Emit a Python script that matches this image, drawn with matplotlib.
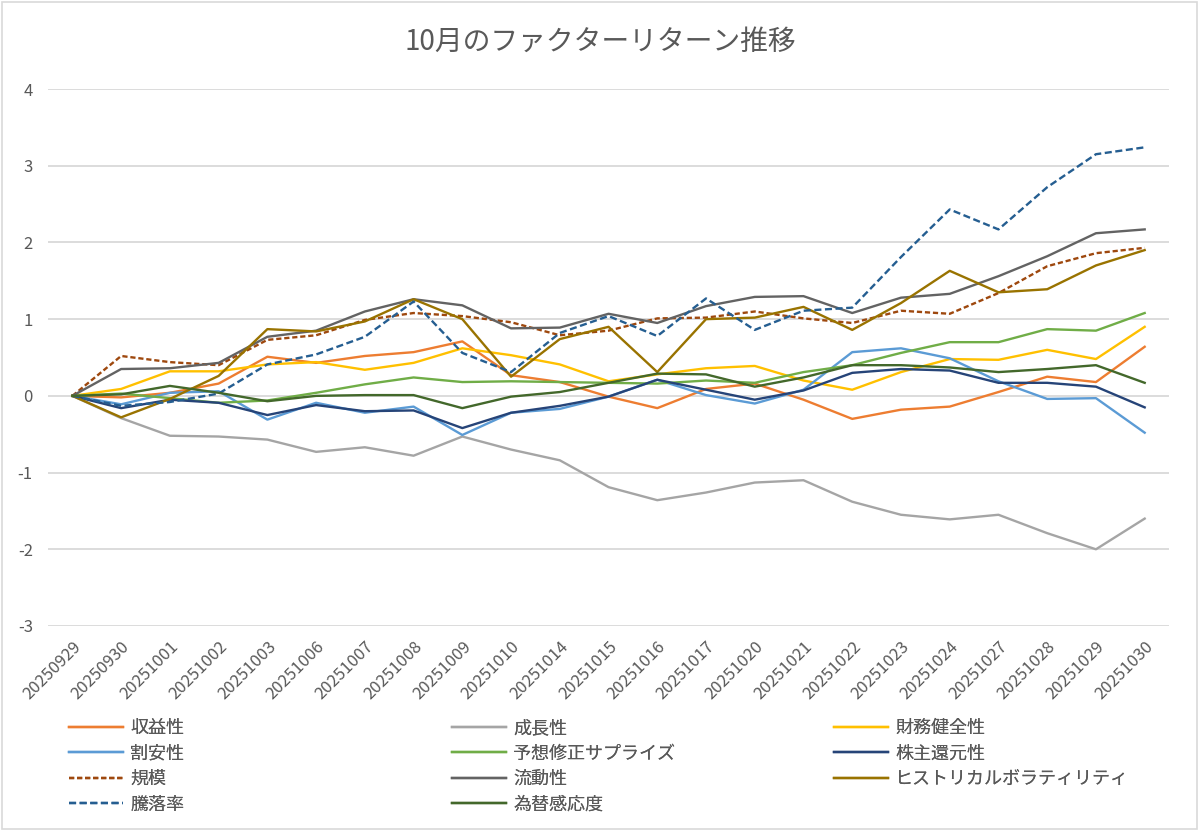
import matplotlib.pyplot as plt
from matplotlib.patches import Rectangle

plt.rcParams['font.family'] = ['Noto Sans CJK JP', 'DejaVu Sans']
plt.rcParams['axes.unicode_minus'] = False

dates = ['20250929', '20250930', '20251001', '20251002', '20251003', '20251006',
         '20251007', '20251008', '20251009', '20251010', '20251014', '20251015',
         '20251016', '20251017', '20251020', '20251021', '20251022', '20251023',
         '20251024', '20251027', '20251028', '20251029', '20251030']

shueki = [0, -0.02, 0.04, 0.16, 0.51, 0.43, 0.52, 0.57, 0.71, 0.27, 0.18, -0.01,
          -0.16, 0.09, 0.16, -0.05, -0.30, -0.18, -0.14, 0.05, 0.25, 0.18, 0.64]
seicho = [0, -0.29, -0.52, -0.53, -0.57, -0.73, -0.67, -0.78, -0.53, -0.70, -0.84, -1.19,
          -1.36, -1.26, -1.13, -1.10, -1.38, -1.55, -1.61, -1.55, -1.79, -2.00, -1.60]
zaimu = [0, 0.09, 0.32, 0.32, 0.41, 0.44, 0.34, 0.43, 0.62, 0.53, 0.41, 0.19,
         0.28, 0.36, 0.39, 0.20, 0.08, 0.31, 0.48, 0.47, 0.60, 0.48, 0.90]
wariyasu = [0, -0.11, 0.04, 0.06, -0.31, -0.09, -0.22, -0.14, -0.51, -0.22, -0.17, -0.01,
            0.21, 0.01, -0.10, 0.08, 0.57, 0.62, 0.49, 0.19, -0.04, -0.03, -0.48]
yoso = [0, 0.03, -0.03, -0.09, -0.06, 0.04, 0.15, 0.24, 0.18, 0.19, 0.18, 0.17,
        0.16, 0.20, 0.17, 0.31, 0.40, 0.56, 0.70, 0.70, 0.87, 0.85, 1.08]
kabunushi = [0, -0.16, -0.05, -0.09, -0.25, -0.12, -0.20, -0.19, -0.42, -0.22, -0.13, -0.01,
             0.21, 0.08, -0.05, 0.07, 0.30, 0.35, 0.33, 0.17, 0.17, 0.12, -0.15]
kibo = [0, 0.52, 0.44, 0.40, 0.73, 0.79, 0.99, 1.08, 1.04, 0.96, 0.79, 0.85,
        1.01, 1.02, 1.10, 1.01, 0.95, 1.11, 1.07, 1.34, 1.69, 1.86, 1.93]
ryudo = [0, 0.35, 0.36, 0.43, 0.77, 0.85, 1.10, 1.26, 1.18, 0.88, 0.89, 1.07,
         0.95, 1.17, 1.29, 1.30, 1.08, 1.28, 1.33, 1.56, 1.82, 2.12, 2.17]
hv = [0, -0.28, -0.04, 0.26, 0.87, 0.84, 0.97, 1.26, 1.00, 0.25, 0.74, 0.90,
      0.31, 1.00, 1.02, 1.16, 0.86, 1.21, 1.63, 1.35, 1.39, 1.70, 1.90]
toraku = [0, -0.13, -0.08, 0.03, 0.41, 0.54, 0.77, 1.23, 0.56, 0.31, 0.82, 1.04,
          0.78, 1.27, 0.86, 1.11, 1.15, 1.81, 2.43, 2.17, 2.72, 3.15, 3.24]
kawase = [0, 0.02, 0.13, 0.04, -0.07, 0.00, 0.01, 0.01, -0.16, -0.01, 0.05, 0.17,
          0.29, 0.28, 0.12, 0.24, 0.40, 0.40, 0.37, 0.31, 0.35, 0.40, 0.17]

series = [
    ('収益性', shueki, '#ED7D31', '-'),
    ('成長性', seicho, '#A5A5A5', '-'),
    ('財務健全性', zaimu, '#FFC000', '-'),
    ('割安性', wariyasu, '#5B9BD5', '-'),
    ('予想修正サプライズ', yoso, '#70AD47', '-'),
    ('株主還元性', kabunushi, '#264478', '-'),
    ('規模', kibo, '#9E480E', (0, (2.2, 1.2))),
    ('流動性', ryudo, '#636363', '-'),
    ('ヒストリカルボラティリティ', hv, '#997300', '-'),
    ('騰落率', toraku, '#255E91', (0, (3, 1.5))),
    ('為替感応度', kawase, '#43682B', '-'),
]

fig = plt.figure(figsize=(12.01, 8.32), dpi=100)
ax = fig.add_axes([0.040, 0.2476, 0.9334, 0.6454])

x = list(range(len(dates)))
lines = {}
for name, vals, color, ls in series:
    ln, = ax.plot(x, vals, color=color, linestyle=ls, linewidth=1.7, label=name)
    lines[name] = ln

ax.set_xlim(-0.5, len(dates) - 0.5)
ax.set_ylim(-3, 4)
ax.set_yticks(range(-3, 5))
ax.grid(axis='y', color='#D9D9D9', linewidth=1.3)
ax.set_axisbelow(True)
for s in ax.spines.values():
    s.set_visible(False)
ax.set_xticks(x)
ax.set_xticklabels(dates, rotation=45, ha='right', rotation_mode='anchor')
ax.tick_params(axis='both', length=0, colors='#595959', labelsize=12)
ax.tick_params(axis='y', pad=11)
ax.tick_params(axis='x', pad=9)

fig.text(0.5, 1 - 42 / 832, '10月のファクターリターン推移', fontsize=20,
         color='#595959', ha='center', va='center')

# Excelの凡例は行優先・等幅列なので列ごとに凡例を置く
columns = [
    (69, ['収益性', '割安性', '規模', '騰落率']),
    (452, ['成長性', '予想修正サプライズ', '流動性', '為替感応度']),
    (834, ['財務健全性', '株主還元性', 'ヒストリカルボラティリティ']),
]
for xpos, names in columns:
    leg = fig.legend([lines[n] for n in names], names, loc='upper left',
                     bbox_to_anchor=(xpos / 1201, 1 - 719 / 832), frameon=False,
                     fontsize=13, labelcolor='#595959', handlelength=3.0,
                     handletextpad=0.4, labelspacing=0.42, borderpad=0,
                     borderaxespad=0)
    fig.add_artist(leg)

fig.patches.append(Rectangle((0.002, 0.004), 0.995, 0.993, transform=fig.transFigure,
                             fill=False, edgecolor='#D9D9D9', linewidth=1.2))

fig.savefig('out.png', dpi=100, facecolor='white')
